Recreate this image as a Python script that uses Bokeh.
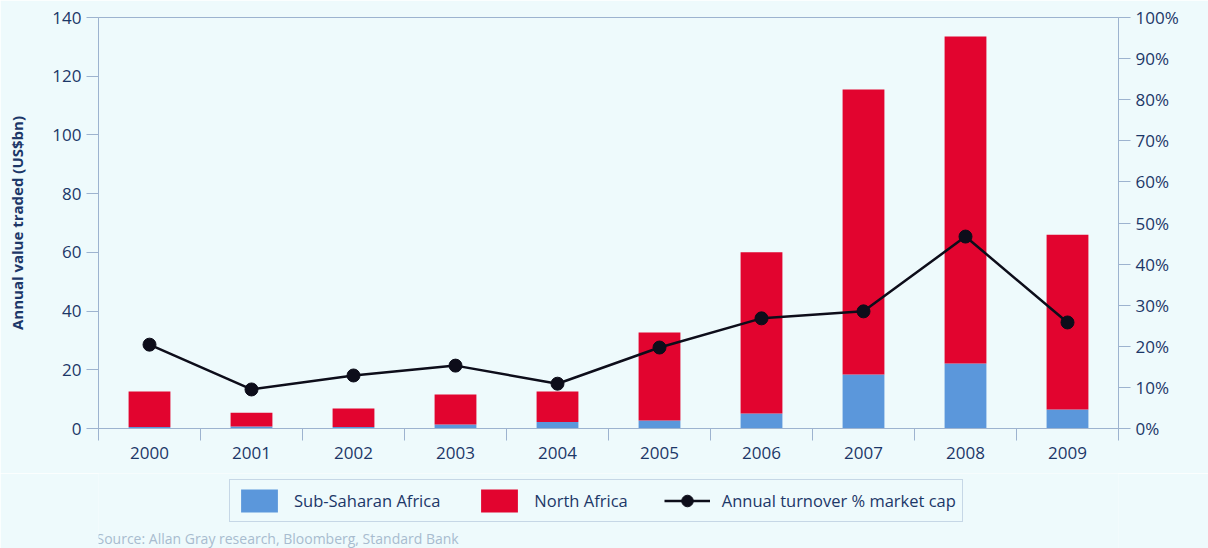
from bokeh.plotting import figure
from bokeh.layouts import column
from bokeh.models import (Range1d, LinearAxis, FixedTicker, NumeralTickFormatter,
                          Legend, LegendItem, Label, ColumnDataSource)
from bokeh.embed import file_html
from bokeh.resources import INLINE

years = ["2000", "2001", "2002", "2003", "2004", "2005", "2006", "2007", "2008", "2009"]
sub_saharan = [0.5, 0.7, 0.5, 1.4, 2.2, 2.7, 5.1, 18.4, 22.1, 6.5]
north_africa_total = [12.6, 5.4, 6.8, 11.6, 12.6, 32.7, 60.0, 115.5, 133.5, 66.0]
turnover_pct = [20.4, 9.5, 12.9, 15.3, 10.9, 19.7, 26.8, 28.5, 46.7, 25.8]

north_africa = [t - s for t, s in zip(north_africa_total, sub_saharan)]
centers = [i + 0.5 for i in range(len(years))]

BG = "#eefafc"
AXIS = "#9db3cf"
TEXT = "#1c3768"
BLUE = "#5b97db"
RED = "#e2042f"
LINE = "#0d0d1a"
FONT = "Open Sans"

src = ColumnDataSource(dict(x=centers, ssa=sub_saharan, na=north_africa,
                            pct=[v / 100 for v in turnover_pct]))

p = figure(width=1208, height=473, output_backend="svg", toolbar_location=None,
           x_range=Range1d(0, len(years)), y_range=Range1d(0, 140),
           min_border_left=98, min_border_right=90, min_border_top=17, min_border_bottom=45)
p.background_fill_color = BG
p.border_fill_color = BG
p.outline_line_color = AXIS
p.xgrid.visible = False
p.ygrid.visible = False

p.extra_y_ranges = {"pct": Range1d(0, 1)}

p.vbar_stack(["ssa", "na"], x="x", width=0.41, source=src,
             color=[BLUE, RED], line_color=None)
p.line("x", "pct", source=src, y_range_name="pct", line_color=LINE, line_width=2.5)
p.scatter("x", "pct", source=src, y_range_name="pct", size=13,
          fill_color=LINE, line_color=LINE)

# x axis
xa = p.xaxis[0]
xa.ticker = FixedTicker(ticks=centers, minor_ticks=list(range(len(years) + 1)))
xa.major_label_overrides = {c: y for c, y in zip(centers, years)}
xa.major_tick_line_color = None
xa.minor_tick_line_color = AXIS
xa.minor_tick_in = 0
xa.minor_tick_out = 12
xa.major_label_standoff = 6

# left axis
ya = p.yaxis[0]
ya.ticker = FixedTicker(ticks=list(range(0, 141, 20)))
ya.axis_label = "Annual value traded (US$bn)"
ya.axis_label_text_font_style = "bold"
ya.axis_label_text_font_size = "15px"
ya.axis_label_standoff = 22
ya.major_tick_in = 0
ya.major_tick_out = 12
ya.minor_tick_line_color = None

# right axis
ra = LinearAxis(y_range_name="pct", ticker=FixedTicker(ticks=[i / 10 for i in range(11)]),
                formatter=NumeralTickFormatter(format="0%"))
ra.major_tick_in = 0
ra.major_tick_out = 12
ra.minor_tick_line_color = None
p.add_layout(ra, "right")

for ax in [xa, ya, ra]:
    ax.axis_line_color = AXIS
    ax.major_label_text_color = TEXT
    ax.major_label_text_font = FONT
    ax.major_label_text_font_size = "17px"
    ax.axis_label_text_color = TEXT
    ax.axis_label_text_font = FONT
for ax in [ya, ra]:
    ax.major_tick_line_color = AXIS

# legend + source strip (separate figure so nothing is clipped)
q = figure(width=1208, height=75, output_backend="svg", toolbar_location=None,
           x_axis_type=None, y_axis_type=None, x_range=Range1d(0, 1), y_range=Range1d(0, 1),
           min_border_left=0, min_border_right=0, min_border_top=0, min_border_bottom=0)
q.background_fill_color = BG
q.border_fill_color = BG
q.outline_line_color = None

g1 = q.vbar(x="x", top="ssa", width=0.41, source=src, color=BLUE, line_color=None, visible=False)
g2 = q.vbar(x="x", top="na", width=0.41, source=src, color=RED, line_color=None, visible=False)
g3 = q.line("x", "pct", source=src, line_color=LINE, line_width=2.5, visible=False)
g4 = q.scatter("x", "pct", source=src, size=12, fill_color=LINE, line_color=LINE, visible=False)

legend = Legend(items=[LegendItem(label="Sub-Saharan Africa", renderers=[g1]),
                       LegendItem(label="North Africa", renderers=[g2]),
                       LegendItem(label="Annual turnover % market cap", renderers=[g3, g4])],
                orientation="horizontal", location=(131, 26),
                glyph_width=46, glyph_height=29, label_standoff=12, spacing=36,
                padding=6, margin=0,
                label_text_font=FONT, label_text_font_size="16.5px", label_text_color=TEXT,
                border_line_color=AXIS, background_fill_color=BG, background_fill_alpha=1)
q.add_layout(legend)

q.add_layout(Label(x=-2, y=1, x_units="screen", y_units="screen",
                   text="Source: Allan Gray research, Bloomberg, Standard Bank",
                   text_font=FONT, text_font_size="14px", text_color="#a8bccf"))

layout = column(p, q, spacing=0)
open("out.html", "w").write(file_html(layout, INLINE))
